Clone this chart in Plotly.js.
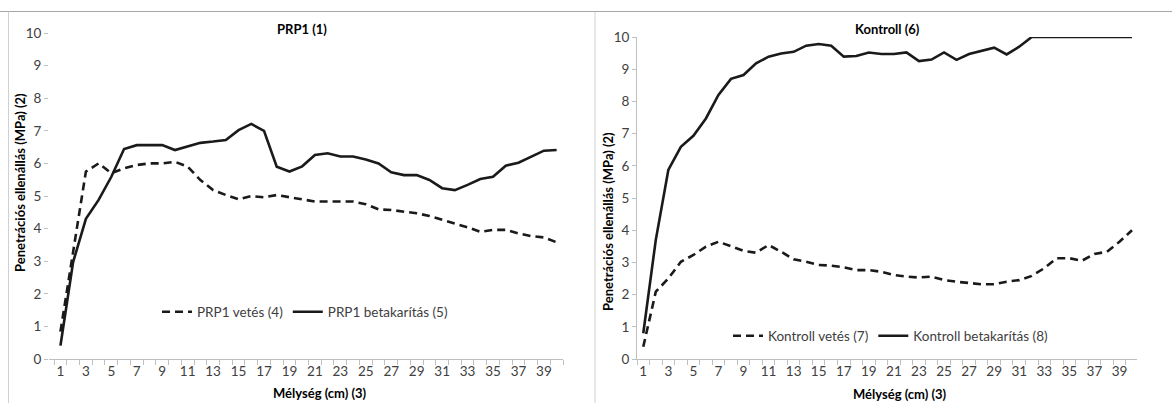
<!DOCTYPE html>
<html>
<head>
<meta charset="utf-8">
<script src="https://cdn.plot.ly/plotly-3.0.1.min.js"></script>
<style>html,body{margin:0;padding:0;background:#fff;}#chart{width:1172px;height:403px;}</style>
</head>
<body>
<div id="chart"></div>
<script>
// ---- data ----
const depth = [1,2,3,4,5,6,7,8,9,10,11,12,13,14,15,16,17,18,19,20,21,22,23,24,25,26,27,28,29,30,31,32,33,34,35,36,37,38,39,40];
const prp1Vetes = [0.84,3.3,5.75,6.0,5.7,5.85,5.95,6.0,6.0,6.05,5.9,5.49,5.18,5.03,4.9,5.0,4.96,5.03,4.96,4.9,4.83,4.83,4.83,4.83,4.75,4.59,4.57,4.52,4.47,4.39,4.28,4.16,4.04,3.9,3.96,3.96,3.85,3.77,3.73,3.58];
const prp1Betakaritas = [0.41,2.98,4.3,4.88,5.59,6.44,6.56,6.55,6.56,6.41,6.51,6.63,6.67,6.72,7.02,7.21,7.0,5.9,5.75,5.91,6.26,6.31,6.21,6.21,6.12,6.0,5.73,5.64,5.64,5.49,5.24,5.18,5.34,5.52,5.59,5.93,6.02,6.21,6.39,6.41];
const kontrollVetes = [0.38,2.09,2.5,3.02,3.23,3.49,3.64,3.51,3.36,3.3,3.54,3.33,3.1,3.02,2.92,2.9,2.85,2.76,2.76,2.71,2.61,2.56,2.53,2.56,2.45,2.4,2.35,2.32,2.32,2.4,2.45,2.58,2.82,3.13,3.13,3.05,3.26,3.33,3.64,4.0];
const kontrollBetakaritas = [0.8,3.7,5.87,6.59,6.93,7.47,8.2,8.7,8.82,9.18,9.39,9.49,9.54,9.73,9.78,9.73,9.39,9.41,9.52,9.47,9.47,9.52,9.25,9.3,9.52,9.29,9.47,9.57,9.67,9.46,9.7,10,10,10,10,10,10,10,10,10];
const xTickVals = [1,3,5,7,9,11,13,15,17,19,21,23,25,27,29,31,33,35,37,39];
const yTickVals = [0,1,2,3,4,5,6,7,8,9,10];
const names = ["PRP1 vetés (4)","PRP1 betakarítás (5)","Kontroll vetés (7)","Kontroll betakarítás (8)"];
const panelTitles = ["PRP1 (1)","Kontroll (6)"];
const xTitle = "Mélység (cm) (3)";
const yTitle = "Penetrációs ellenállás (MPa) (2)";

// ---- layout helpers ----
const W = 1172, H = 403;
const px = v => v / W, py = v => 1 - v / H;
const FONT = "Lato, 'Open Sans', sans-serif";
const lineW = 2.6, dashPat = "8px,5px", lineCol = "#1a1a1a";

const traces = [
  {x: depth, y: prp1Vetes, name: names[0], mode: "lines", line: {color: lineCol, width: lineW, dash: dashPat}, xaxis: "x", yaxis: "y", legend: "legend"},
  {x: depth, y: prp1Betakaritas, name: names[1], mode: "lines", line: {color: lineCol, width: lineW}, xaxis: "x", yaxis: "y", legend: "legend"},
  {x: depth, y: kontrollVetes, name: names[2], mode: "lines", line: {color: lineCol, width: lineW, dash: dashPat}, xaxis: "x2", yaxis: "y2", legend: "legend2"},
  {x: depth, y: kontrollBetakaritas, name: names[3], mode: "lines", line: {color: lineCol, width: lineW}, xaxis: "x2", yaxis: "y2", legend: "legend2"}
];

const xCommon = {
  tickvals: xTickVals, ticks: "", showline: true, linecolor: "#bfbfbf", linewidth: 1,
  showgrid: false, zeroline: false, tickfont: {family: FONT, size: 13.5, color: "#404040"},
  minor: {tick0: 0.5, dtick: 1, ticks: "outside", ticklen: 5, tickcolor: "#bfbfbf", showgrid: false},
  fixedrange: true
};
const yCommon = {
  range: [0, 10], tickvals: yTickVals, showgrid: false, zeroline: false,
  ticks: "outside", ticklen: 4, tickcolor: "#bfbfbf",
  tickfont: {family: FONT, size: 13.5, color: "#404040"}, fixedrange: true
};

const ann = (text, x, y, opts) => Object.assign({
  text: text, xref: "paper", yref: "paper", x: px(x), y: py(y), showarrow: false,
  xanchor: "center", yanchor: "middle",
  font: {family: FONT, size: 13, color: "#000"}
}, opts || {});

const legFont = {family: FONT, size: 13.5, color: "#404040"};

const layout = {
  width: W, height: H, margin: {l: 0, r: 0, t: 0, b: 0},
  paper_bgcolor: "#fff", plot_bgcolor: "rgba(0,0,0,0)",
  showlegend: true,
  xaxis: Object.assign({}, xCommon, {domain: [px(49), px(563)], range: [0.1, 40.5], anchor: "y"}),
  yaxis: Object.assign({}, yCommon, {domain: [py(359), py(33)], showline: false, anchor: "x"}),
  xaxis2: Object.assign({}, xCommon, {domain: [px(637), px(1137)], range: [0.5, 40.4], anchor: "y2"}),
  yaxis2: Object.assign({}, yCommon, {domain: [py(359), py(37)], showline: true, linecolor: "#bfbfbf", linewidth: 1, anchor: "x2"}),
  legend: {orientation: "h", x: px(157), y: py(312), xanchor: "left", yanchor: "middle",
    bgcolor: "rgba(0,0,0,0)", itemwidth: 30, font: legFont, tracegroupgap: 0},
  legend2: {orientation: "h", x: px(728), y: py(336), xanchor: "left", yanchor: "middle",
    bgcolor: "rgba(0,0,0,0)", itemwidth: 30, font: legFont, tracegroupgap: 0},
  annotations: [
    ann("<b>" + panelTitles[0] + "</b>", 302, 29),
    ann("<b>" + panelTitles[1] + "</b>", 888, 29),
    ann("<b>" + xTitle + "</b>", 320, 393),
    ann("<b>" + xTitle + "</b>", 900, 394),
    ann("<b>" + yTitle + "</b>", 20, 183, {textangle: -90}),
    ann("<b>" + yTitle + "</b>", 608, 221, {textangle: -90})
  ],
  shapes: [
    {type: "line", xref: "paper", yref: "paper", x0: 0, x1: 1, y0: py(11.5), y1: py(11.5), line: {color: "#a6a6a6", width: 1.2}},
    {type: "line", xref: "paper", yref: "paper", x0: px(8.5), x1: px(8.5), y0: py(11.5), y1: 0, line: {color: "#d0d0d0", width: 1}},
    {type: "line", xref: "paper", yref: "paper", x0: px(595), x1: px(595), y0: py(11.5), y1: 0, line: {color: "#d0d0d0", width: 1}}
  ]
};

Plotly.newPlot("chart", traces, layout, {displayModeBar: false, staticPlot: true});
</script>
</body>
</html>
